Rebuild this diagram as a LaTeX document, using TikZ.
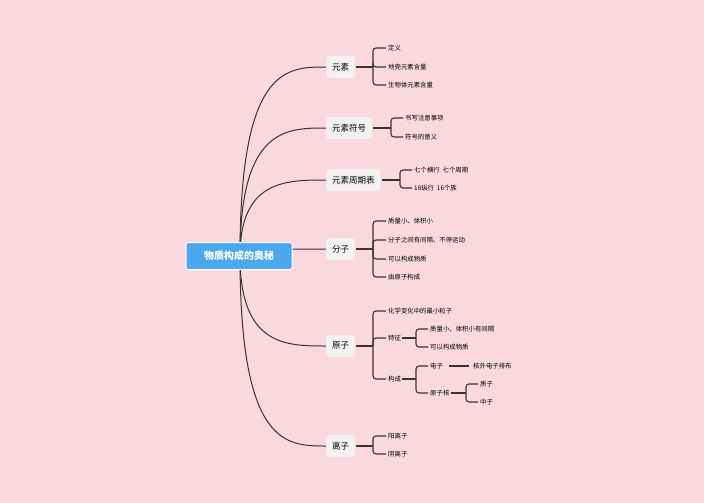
\documentclass[tikz,border=0pt]{standalone}
\usepackage{fontspec}
\setmainfont{Noto Sans CJK SC}
\definecolor{bgpink}{HTML}{F9D8DF}
\definecolor{rootblue}{HTML}{4AA8EC}
\definecolor{topicgray}{HTML}{F3F1F1}
\definecolor{linegray}{HTML}{3A3335}
\tikzset{
    rootbox/.style={draw=white, line width=1pt, fill=rootblue, text=white, rounded corners=2pt,
        minimum width=106pt, minimum height=27pt, font=\fontsize{10}{12}\selectfont\bfseries},
    topicbox/.style={fill=topicgray, rounded corners=3pt, minimum height=22pt, inner xsep=6pt,
        font=\fontsize{8.5}{10}\selectfont},
    leaf/.style={anchor=west, inner sep=0pt, font=\fontsize{6.4}{7.5}\selectfont},
    link/.style={draw=linegray, line width=1pt},
    brace/.style={draw=linegray, line width=1.1pt, rounded corners=3pt}
}
\begin{document}
\begin{tikzpicture}[x=1pt,y=-1pt]
    \fill[bgpink] (0,0) rectangle (704,503);
    \useasboundingbox (0,0) rectangle (704,503);

    % main topics
    \coordinate (rc) at (240,256);
    \foreach \t/\y in {yuansu/67,fuhao/128,zhouqi/180,fenzi/249,yuanzi/346,lizi/446}{
        \coordinate (\t-c) at (240,\y);
        \draw[link] (rc) .. controls (\t-c) and ([xshift=-40pt]326,\y) .. (326,\y);
    }
    \node[rootbox] (root) at (239,256) {物质构成的奥秘};
    \node[topicbox, anchor=west] (yuansu) at (326,67) {元素};
    \node[topicbox, anchor=west] (fuhao) at (326,128) {元素符号};
    \node[topicbox, anchor=west] (zhouqi) at (326,180) {元素周期表};
    \node[topicbox, anchor=west] (fenzi) at (326,249) {分子};
    \node[topicbox, anchor=west] (yuanzi) at (326,346) {原子};
    \node[topicbox, anchor=west] (lizi) at (326,446) {离子};

    % leaves
    \node[leaf] (y1) at (388,48) {定义};
    \node[leaf] (y2) at (388,67) {地壳元素含量};
    \node[leaf] (y3) at (388,85) {生物体元素含量};
    \node[leaf] (f1) at (405,118) {书写注意事项};
    \node[leaf] (f2) at (405,137) {符号的意义};
    \node[leaf] (z1) at (414,170) {七个横行~~七个周期};
    \node[leaf] (z2) at (414,188) {18纵行~~16个族};
    \node[leaf] (m1) at (388,221) {质量小、体积小};
    \node[leaf] (m2) at (388,240) {分子之间有间隔、不停运动};
    \node[leaf] (m3) at (388,259) {可以构成物质};
    \node[leaf] (m4) at (388,277) {由原子构成};
    \node[leaf] (a1) at (388,311) {化学变化中的最小粒子};
    \node[leaf] (a2) at (388,338) {特征};
    \node[leaf] (a3) at (388,379) {构成};
    \node[leaf] (t1) at (430,329) {质量小、体积小有间隔};
    \node[leaf] (t2) at (430,347) {可以构成物质};
    \node[leaf] (g1) at (430,366) {电子};
    \node[leaf] (g2) at (430,393) {原子核};
    \node[leaf] (e1) at (473,366) {核外电子排布};
    \node[leaf] (h1) at (480,384) {质子};
    \node[leaf] (h2) at (480,402) {中子};
    \node[leaf] (l1) at (388,436) {阳离子};
    \node[leaf] (l2) at (388,454) {阴离子};

    % braces
    \foreach \p/\x/\cs in {yuansu/373/{y1,y2,y3}, fuhao/391/{f1,f2}, zhouqi/400/{z1,z2},
            fenzi/373/{m1,m2,m3,m4}, yuanzi/373/{a1,a2,a3}, lizi/373/{l1,l2},
            a2/416/{t1,t2}, a3/416/{g1,g2}, g2/466/{h1,h2}}{
        \coordinate (bx) at (\x,0);
        \draw[brace] ([xshift=1pt]\p.east) -- (bx |- \p.east);
        \foreach \c in \cs
            \draw[brace] (bx |- \p.east) |- ([xshift=-2pt]\c.west);
    }
    \draw[brace] ([xshift=6pt]g1.east) -- ([xshift=-4pt]e1.west);
\end{tikzpicture}
\end{document}
